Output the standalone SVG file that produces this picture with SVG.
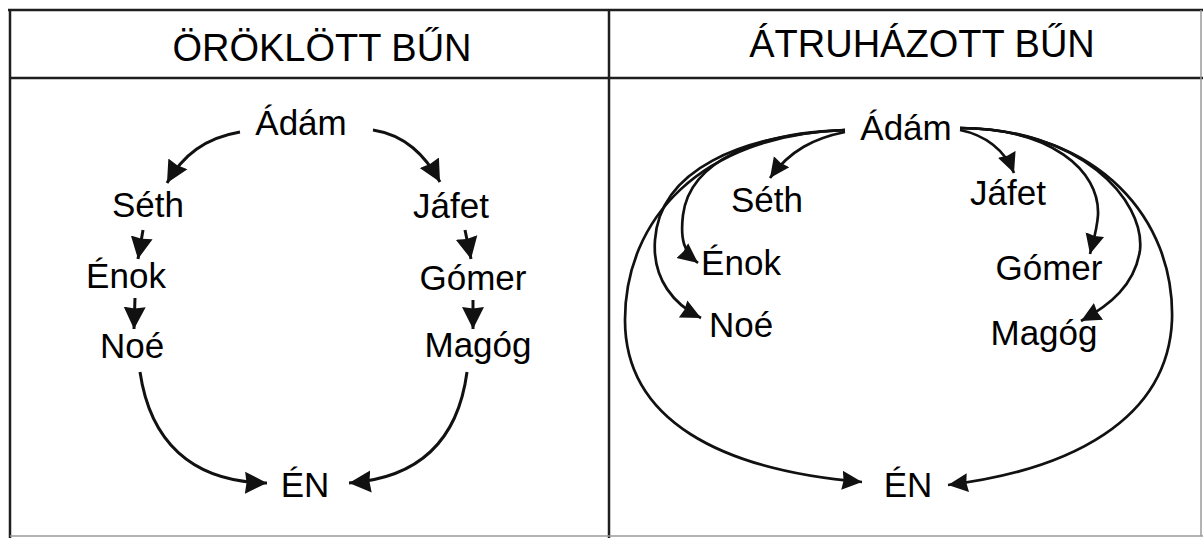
<svg xmlns="http://www.w3.org/2000/svg" width="1203" height="538" viewBox="0 0 1203 538">
<style>
.frame{stroke:#1e1e1e;stroke-width:2.5;fill:none}
.faint{stroke:#9a9a9a;stroke-width:1.5;fill:none}
.title{font-family:"Liberation Sans",Arial,sans-serif;font-size:38px;fill:#000;text-anchor:middle}
.lbl{font-family:"Liberation Sans",Arial,sans-serif;font-size:35px;fill:#000;text-anchor:middle}
.c{stroke:#111;stroke-width:3;fill:none;marker-end:url(#ah)}
.cr{stroke:#111;stroke-width:2.7;fill:none;marker-end:url(#ah2)}
</style>
<defs>
<marker id="ah" markerUnits="userSpaceOnUse" viewBox="0 0 24 26" markerWidth="24" markerHeight="26" refX="22" refY="13" orient="auto">
<path d="M0,2 L22,13 L0,24 L1.5,13 z" fill="#111"/>
</marker>
<marker id="ah2" markerUnits="userSpaceOnUse" viewBox="0 0 22 22" markerWidth="22" markerHeight="22" refX="20" refY="11" orient="auto">
<path d="M0,1.5 L20,11 L0,20.5 L1.5,11 z" fill="#111"/>
</marker>
</defs>
<rect width="1203" height="538" fill="#fff"/>
<g id="frame">
<line class="frame" x1="8" y1="10" x2="1203" y2="10"/>
<line class="frame" x1="10" y1="78" x2="1203" y2="78"/>
<line class="frame" x1="10" y1="9" x2="10" y2="538"/>
<line class="frame" x1="609" y1="9" x2="609" y2="538"/>
<line class="faint" x1="10" y1="536" x2="1203" y2="536"/>
<line class="faint" x1="1201" y1="10" x2="1201" y2="536"/>
</g>
<g id="titles">
<text class="title" x="322" y="61">ÖRÖKLÖTT BŰN</text>
<text class="title" x="922" y="57">ÁTRUHÁZOTT BŰN</text>
</g>
<g id="connectors">
<path class="c" d="M240,132 C205,138 183,155 167,183"/>
<path class="c" d="M373,130 C405,135 425,155 440,182"/>
<path class="c" d="M143,230 L138,259"/>
<path class="c" d="M135,298 L134,329"/>
<path class="c" d="M465,230 L471,259"/>
<path class="c" d="M473,300 L473,329"/>
<path class="c" d="M140,372 C150,440 190,482 267,483"/>
<path class="c" d="M467,372 C458,440 420,478 349,483"/>
<path class="cr" d="M845,132 C815,138 790,150 770,178"/>
<path class="cr" d="M845,130 C760,132 690,160 683,215 C680,240 684,252 698,263"/>
<path class="cr" d="M845,130 C740,135 660,170 655,240 C652,280 675,305 701,318"/>
<path class="cr" d="M845,130 C700,135 625,220 625,320 C625,420 720,470 862,482"/>
<path class="cr" d="M960,130 C985,135 1005,150 1014,173"/>
<path class="cr" d="M960,128 C1050,128 1100,170 1098,215 C1097,230 1093,242 1090,254"/>
<path class="cr" d="M960,128 C1080,128 1145,200 1140,250 C1135,285 1110,305 1081,321"/>
<path class="cr" d="M960,128 C1100,130 1175,220 1172,320 C1168,420 1070,470 948,485"/>
</g>
<g id="L-adam"><text class="lbl" x="301" y="135">Ádám</text></g>
<g id="L-seth"><text class="lbl" x="148" y="217">Séth</text></g>
<g id="L-enok"><text class="lbl" x="126" y="288">Énok</text></g>
<g id="L-noe"><text class="lbl" x="132" y="358">Noé</text></g>
<g id="L-jafet"><text class="lbl" x="451" y="218">Jáfet</text></g>
<g id="L-gomer"><text class="lbl" x="473" y="290">Gómer</text></g>
<g id="L-magog"><text class="lbl" x="478" y="357">Magóg</text></g>
<g id="L-en"><text class="lbl" x="305" y="497">ÉN</text></g>
<g id="R-adam"><text class="lbl" x="906" y="140">Ádám</text></g>
<g id="R-seth"><text class="lbl" x="767" y="212">Séth</text></g>
<g id="R-enok"><text class="lbl" x="741" y="275">Énok</text></g>
<g id="R-noe"><text class="lbl" x="741" y="337">Noé</text></g>
<g id="R-jafet"><text class="lbl" x="1008" y="205">Jáfet</text></g>
<g id="R-gomer"><text class="lbl" x="1049" y="280">Gómer</text></g>
<g id="R-magog"><text class="lbl" x="1044" y="345">Magóg</text></g>
<g id="R-en"><text class="lbl" x="908" y="497">ÉN</text></g>
</svg>
